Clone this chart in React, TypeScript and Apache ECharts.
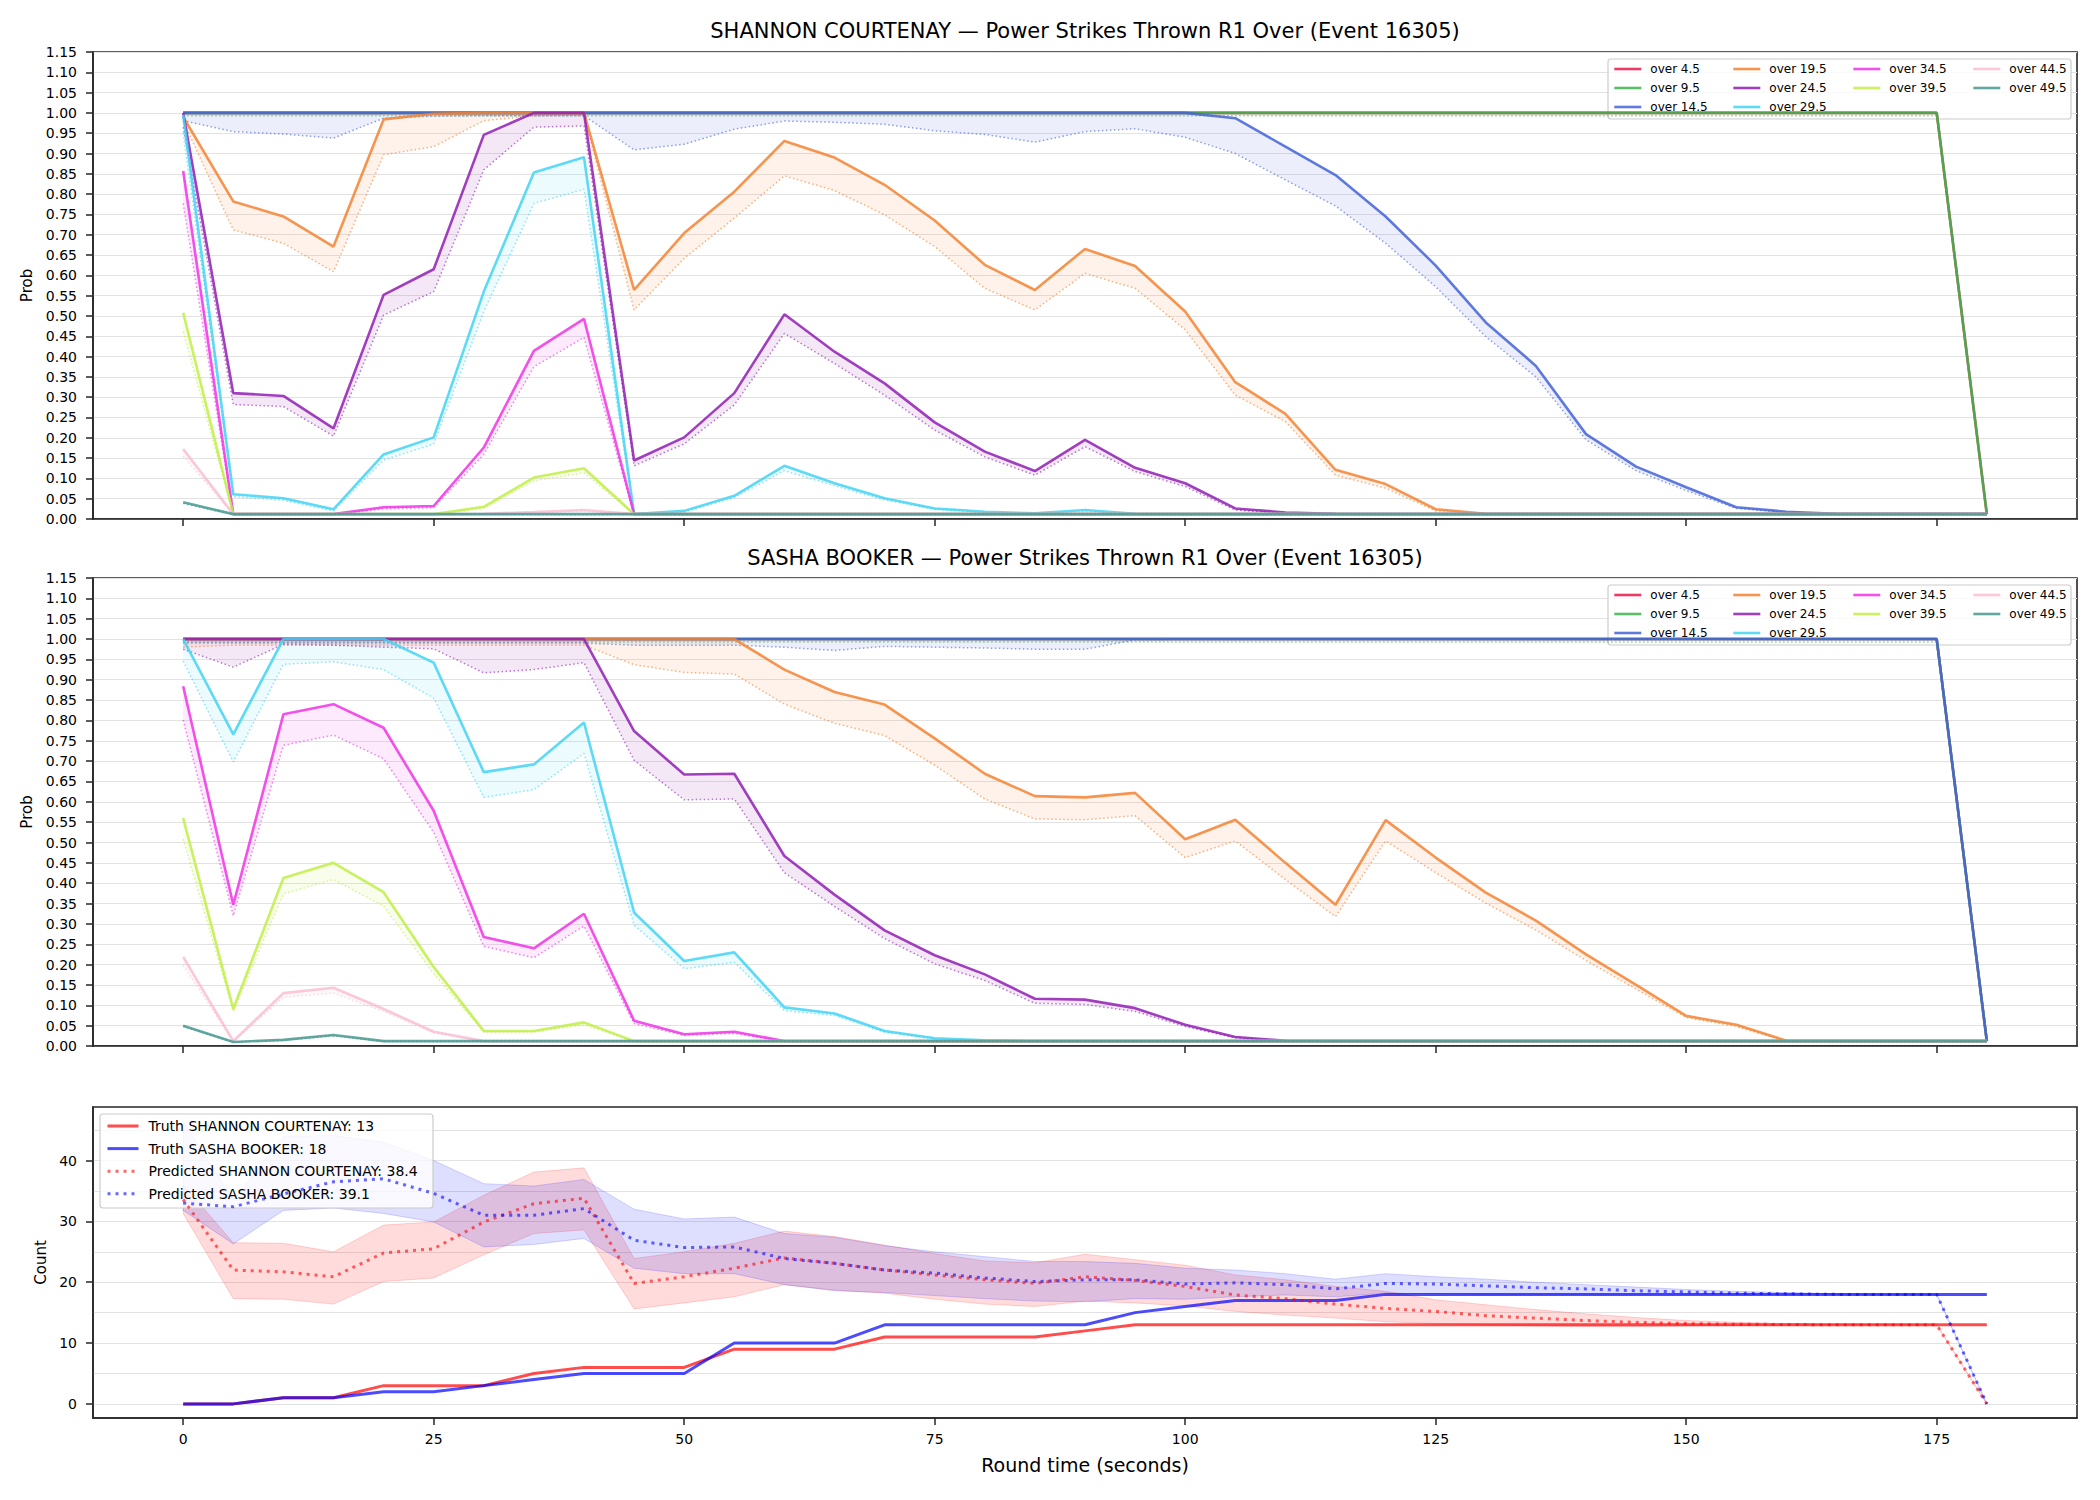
import React, { useEffect, useRef } from "react";
import * as echarts from "echarts";

// Round time in seconds (one sample every 5 s)
const times = [
  0, 5, 10, 15, 20, 25, 30, 35, 40, 45,
  50, 55, 60, 65, 70, 75, 80, 85, 90, 95,
  100, 105, 110, 115, 120, 125, 130, 135, 140, 145,
  150, 155, 160, 165, 170, 175, 180,
];
const xTicks = [0, 25, 50, 75, 100, 125, 150, 175];
const countTicks = [0, 10, 20, 30, 40];
const countGrid = [0, 5, 10, 15, 20, 25, 30, 35, 40, 45];

const thresholds = [
  "over 4.5", "over 9.5", "over 14.5", "over 19.5", "over 24.5",
  "over 29.5", "over 34.5", "over 39.5", "over 44.5", "over 49.5",
];
const palette = [
  "#e6194b", "#3cb44b", "#4363d8", "#f58231", "#911eb4",
  "#42d4f4", "#f032e6", "#bfef45", "#fabed4", "#469990",
];

// ---------- SHANNON COURTENAY: probability (upper) and lower bound ----------
const sc45Hi = [
  1, 1, 1, 1, 1, 1, 1, 1, 1, 1,
  1, 1, 1, 1, 1, 1, 1, 1, 1, 1,
  1, 1, 1, 1, 1, 1, 1, 1, 1, 1,
  1, 1, 1, 1, 1, 1, 0.012,
];
const sc45Lo = [
  0.999, 0.999, 0.999, 0.999, 0.999, 0.999, 0.999, 0.999, 0.999, 0.999,
  0.999, 0.999, 0.999, 0.999, 0.999, 0.999, 0.999, 0.999, 0.999, 0.999,
  0.999, 0.999, 0.999, 0.999, 0.999, 0.999, 0.999, 0.999, 0.999, 0.999,
  0.999, 0.999, 0.999, 0.999, 0.999, 0.999, 0.012,
];
const sc95Hi = [
  1, 1, 1, 1, 1, 1, 1, 1, 1, 1,
  1, 1, 1, 1, 1, 1, 1, 1, 1, 1,
  1, 1, 1, 1, 1, 1, 1, 1, 1, 1,
  1, 1, 1, 1, 1, 1, 0.012,
];
const sc95Lo = [
  0.993, 0.993, 0.993, 0.993, 0.993, 0.993, 0.993, 0.993, 0.993, 0.993,
  0.993, 0.993, 0.993, 0.993, 0.993, 0.993, 0.993, 0.993, 0.993, 0.993,
  0.993, 0.993, 0.993, 0.993, 0.993, 0.993, 0.993, 0.993, 0.993, 0.993,
  0.993, 0.993, 0.993, 0.993, 0.993, 0.993, 0.012,
];
const sc145Hi = [
  1, 1, 1, 1, 1, 1, 1, 1, 1, 1,
  1, 1, 1, 1, 1, 1, 1, 1, 1, 1,
  1, 0.987, 0.917, 0.847, 0.745, 0.624, 0.484, 0.377, 0.209, 0.129,
  0.078, 0.029, 0.018, 0.013, 0.012, 0.012, 0.012,
];
const sc145Lo = [
  0.981, 0.954, 0.948, 0.938, 0.987, 0.992, 0.993, 0.993, 0.993, 0.909,
  0.923, 0.96, 0.98, 0.977, 0.972, 0.956, 0.947, 0.928, 0.954, 0.961,
  0.94, 0.9, 0.835, 0.771, 0.679, 0.572, 0.449, 0.35, 0.195, 0.119,
  0.07, 0.026, 0.016, 0.012, 0.012, 0.012, 0.012,
];
const sc195Hi = [
  0.99, 0.782, 0.745, 0.671, 0.984, 0.998, 1, 1, 1, 0.564,
  0.704, 0.806, 0.931, 0.89, 0.823, 0.735, 0.626, 0.564, 0.665, 0.623,
  0.511, 0.337, 0.259, 0.121, 0.086, 0.024, 0.013, 0.012, 0.012, 0.012,
  0.012, 0.012, 0.012, 0.012, 0.012, 0.012, 0.012,
];
const sc195Lo = [
  0.98, 0.712, 0.679, 0.609, 0.897, 0.917, 0.981, 0.993, 0.995, 0.515,
  0.642, 0.741, 0.845, 0.809, 0.749, 0.671, 0.568, 0.515, 0.605, 0.568,
  0.466, 0.305, 0.24, 0.108, 0.076, 0.02, 0.011, 0.011, 0.011, 0.011,
  0.011, 0.011, 0.011, 0.011, 0.011, 0.011, 0.011,
];
const sc245Hi = [
  1, 0.31, 0.303, 0.223, 0.552, 0.615, 0.946, 1, 1, 0.144,
  0.201, 0.31, 0.504, 0.412, 0.334, 0.238, 0.166, 0.118, 0.195, 0.126,
  0.088, 0.026, 0.016, 0.013, 0.012, 0.012, 0.012, 0.012, 0.012, 0.012,
  0.012, 0.012, 0.012, 0.012, 0.012, 0.012, 0.012,
];
const sc245Lo = [
  0.965, 0.282, 0.277, 0.204, 0.502, 0.56, 0.86, 0.965, 0.968, 0.131,
  0.185, 0.281, 0.457, 0.383, 0.305, 0.219, 0.153, 0.108, 0.178, 0.117,
  0.08, 0.022, 0.014, 0.012, 0.011, 0.011, 0.011, 0.011, 0.011, 0.011,
  0.011, 0.011, 0.011, 0.011, 0.011, 0.011, 0.011,
];
const sc295Hi = [
  0.995, 0.061, 0.051, 0.024, 0.159, 0.201, 0.56, 0.853, 0.891, 0.012,
  0.02, 0.057, 0.131, 0.088, 0.051, 0.026, 0.018, 0.014, 0.022, 0.013,
  0.012, 0.012, 0.012, 0.012, 0.012, 0.012, 0.012, 0.012, 0.012, 0.012,
  0.012, 0.012, 0.012, 0.012, 0.012, 0.012, 0.012,
];
const sc295Lo = [
  0.95, 0.055, 0.046, 0.02, 0.145, 0.185, 0.511, 0.777, 0.812, 0.011,
  0.017, 0.053, 0.119, 0.082, 0.047, 0.024, 0.016, 0.012, 0.019, 0.012,
  0.011, 0.011, 0.011, 0.011, 0.011, 0.011, 0.011, 0.011, 0.011, 0.011,
  0.011, 0.011, 0.011, 0.011, 0.011, 0.011, 0.011,
];
const sc345Hi = [
  0.857, 0.012, 0.012, 0.012, 0.029, 0.032, 0.176, 0.414, 0.493, 0.012,
  0.012, 0.012, 0.012, 0.012, 0.012, 0.012, 0.012, 0.012, 0.012, 0.012,
  0.012, 0.012, 0.012, 0.012, 0.012, 0.012, 0.012, 0.012, 0.012, 0.012,
  0.012, 0.012, 0.012, 0.012, 0.012, 0.012, 0.012,
];
const sc345Lo = [
  0.777, 0.011, 0.011, 0.011, 0.025, 0.028, 0.159, 0.375, 0.447, 0.011,
  0.011, 0.011, 0.011, 0.011, 0.011, 0.011, 0.011, 0.011, 0.011, 0.011,
  0.011, 0.011, 0.011, 0.011, 0.011, 0.011, 0.011, 0.011, 0.011, 0.011,
  0.011, 0.011, 0.011, 0.011, 0.011, 0.011, 0.011,
];
const sc395Hi = [
  0.508, 0.012, 0.012, 0.012, 0.012, 0.012, 0.03, 0.102, 0.125, 0.012,
  0.012, 0.012, 0.012, 0.012, 0.012, 0.012, 0.012, 0.012, 0.012, 0.012,
  0.012, 0.012, 0.012, 0.012, 0.012, 0.012, 0.012, 0.012, 0.012, 0.012,
  0.012, 0.012, 0.012, 0.012, 0.012, 0.012, 0.012,
];
const sc395Lo = [
  0.461, 0.011, 0.011, 0.011, 0.011, 0.011, 0.027, 0.094, 0.114, 0.011,
  0.011, 0.011, 0.011, 0.011, 0.011, 0.011, 0.011, 0.011, 0.011, 0.011,
  0.011, 0.011, 0.011, 0.011, 0.011, 0.011, 0.011, 0.011, 0.011, 0.011,
  0.011, 0.011, 0.011, 0.011, 0.011, 0.011, 0.011,
];
const sc445Hi = [
  0.172, 0.012, 0.012, 0.012, 0.012, 0.012, 0.013, 0.017, 0.022, 0.012,
  0.012, 0.012, 0.012, 0.012, 0.012, 0.012, 0.012, 0.012, 0.012, 0.012,
  0.012, 0.012, 0.012, 0.012, 0.012, 0.012, 0.012, 0.012, 0.012, 0.012,
  0.012, 0.012, 0.012, 0.012, 0.012, 0.012, 0.012,
];
const sc445Lo = [
  0.155, 0.011, 0.011, 0.011, 0.011, 0.011, 0.012, 0.015, 0.019, 0.011,
  0.011, 0.011, 0.011, 0.011, 0.011, 0.011, 0.011, 0.011, 0.011, 0.011,
  0.011, 0.011, 0.011, 0.011, 0.011, 0.011, 0.011, 0.011, 0.011, 0.011,
  0.011, 0.011, 0.011, 0.011, 0.011, 0.011, 0.011,
];
const sc495Hi = [
  0.041, 0.012, 0.012, 0.012, 0.012, 0.012, 0.012, 0.012, 0.012, 0.012,
  0.012, 0.012, 0.012, 0.012, 0.012, 0.012, 0.012, 0.012, 0.012, 0.012,
  0.012, 0.012, 0.012, 0.012, 0.012, 0.012, 0.012, 0.012, 0.012, 0.012,
  0.012, 0.012, 0.012, 0.012, 0.012, 0.012, 0.012,
];
const sc495Lo = [
  0.038, 0.011, 0.011, 0.011, 0.011, 0.011, 0.011, 0.011, 0.011, 0.011,
  0.011, 0.011, 0.011, 0.011, 0.011, 0.011, 0.011, 0.011, 0.011, 0.011,
  0.011, 0.011, 0.011, 0.011, 0.011, 0.011, 0.011, 0.011, 0.011, 0.011,
  0.011, 0.011, 0.011, 0.011, 0.011, 0.011, 0.011,
];

// ---------- SASHA BOOKER: probability (upper) and lower bound ----------
const sb45Hi = [
  1, 1, 1, 1, 1, 1, 1, 1, 1, 1,
  1, 1, 1, 1, 1, 1, 1, 1, 1, 1,
  1, 1, 1, 1, 1, 1, 1, 1, 1, 1,
  1, 1, 1, 1, 1, 1, 0.012,
];
const sb45Lo = [
  0.999, 0.999, 0.999, 0.999, 0.999, 0.999, 0.999, 0.999, 0.999, 0.999,
  0.999, 0.999, 0.999, 0.999, 0.999, 0.999, 0.999, 0.999, 0.999, 0.999,
  0.999, 0.999, 0.999, 0.999, 0.999, 0.999, 0.999, 0.999, 0.999, 0.999,
  0.999, 0.999, 0.999, 0.999, 0.999, 0.999, 0.012,
];
const sb95Hi = [
  1, 1, 1, 1, 1, 1, 1, 1, 1, 1,
  1, 1, 1, 1, 1, 1, 1, 1, 1, 1,
  1, 1, 1, 1, 1, 1, 1, 1, 1, 1,
  1, 1, 1, 1, 1, 1, 0.012,
];
const sb95Lo = [
  0.993, 0.993, 0.993, 0.993, 0.993, 0.993, 0.993, 0.993, 0.993, 0.993,
  0.993, 0.993, 0.993, 0.993, 0.993, 0.993, 0.993, 0.993, 0.993, 0.993,
  0.993, 0.993, 0.993, 0.993, 0.993, 0.993, 0.993, 0.993, 0.993, 0.993,
  0.993, 0.993, 0.993, 0.993, 0.993, 0.993, 0.012,
];
const sb145Hi = [
  1, 1, 1, 1, 1, 1, 1, 1, 1, 1,
  1, 1, 1, 1, 1, 1, 1, 1, 1, 1,
  1, 1, 1, 1, 1, 1, 1, 1, 1, 1,
  1, 1, 1, 1, 1, 1, 0.012,
];
const sb145Lo = [
  0.99, 0.99, 0.99, 0.99, 0.99, 0.99, 0.99, 0.99, 0.99, 0.985,
  0.985, 0.985, 0.98, 0.972, 0.982, 0.98, 0.978, 0.975, 0.975, 0.998,
  0.999, 0.999, 0.999, 0.999, 0.999, 0.999, 0.999, 0.999, 0.999, 0.999,
  0.999, 0.999, 0.999, 0.999, 0.999, 0.999, 0.012,
];
const sb195Hi = [
  1, 1, 1, 1, 1, 1, 1, 1, 1, 1,
  1, 1, 0.925, 0.87, 0.839, 0.756, 0.669, 0.614, 0.611, 0.622,
  0.508, 0.556, 0.45, 0.347, 0.555, 0.463, 0.377, 0.308, 0.225, 0.15,
  0.074, 0.052, 0.013, 0.012, 0.012, 0.012, 0.012,
];
const sb195Lo = [
  0.98, 0.985, 0.985, 0.985, 0.985, 0.985, 0.985, 0.985, 0.985, 0.937,
  0.918, 0.914, 0.84, 0.793, 0.763, 0.69, 0.607, 0.558, 0.556, 0.566,
  0.463, 0.504, 0.409, 0.318, 0.504, 0.426, 0.351, 0.285, 0.21, 0.14,
  0.07, 0.048, 0.011, 0.011, 0.011, 0.011, 0.011,
];
const sb245Hi = [
  1, 1, 1, 1, 1, 1, 1, 1, 1, 0.774,
  0.667, 0.669, 0.467, 0.372, 0.284, 0.223, 0.176, 0.116, 0.114, 0.093,
  0.052, 0.022, 0.013, 0.012, 0.012, 0.012, 0.012, 0.012, 0.012, 0.012,
  0.012, 0.012, 0.012, 0.012, 0.012, 0.012, 0.012,
];
const sb245Lo = [
  0.975, 0.931, 0.987, 0.985, 0.98, 0.976, 0.917, 0.925, 0.942, 0.702,
  0.605, 0.607, 0.426, 0.343, 0.264, 0.202, 0.161, 0.105, 0.102, 0.085,
  0.048, 0.02, 0.012, 0.011, 0.011, 0.011, 0.011, 0.011, 0.011, 0.011,
  0.011, 0.011, 0.011, 0.011, 0.011, 0.011, 0.011,
];
const sb295Hi = [
  1, 0.766, 1, 1, 1, 0.942, 0.673, 0.692, 0.795, 0.328,
  0.209, 0.23, 0.095, 0.08, 0.037, 0.019, 0.014, 0.012, 0.012, 0.012,
  0.012, 0.012, 0.012, 0.012, 0.012, 0.012, 0.012, 0.012, 0.012, 0.012,
  0.012, 0.012, 0.012, 0.012, 0.012, 0.012, 0.012,
];
const sb295Lo = [
  0.946, 0.698, 0.938, 0.944, 0.925, 0.855, 0.611, 0.63, 0.719, 0.297,
  0.19, 0.206, 0.087, 0.075, 0.034, 0.017, 0.012, 0.011, 0.011, 0.011,
  0.011, 0.011, 0.011, 0.011, 0.011, 0.011, 0.011, 0.011, 0.011, 0.011,
  0.011, 0.011, 0.011, 0.011, 0.011, 0.011, 0.011,
];
const sb345Hi = [
  0.884, 0.347, 0.815, 0.84, 0.782, 0.578, 0.268, 0.24, 0.325, 0.062,
  0.029, 0.035, 0.012, 0.012, 0.012, 0.012, 0.012, 0.012, 0.012, 0.012,
  0.012, 0.012, 0.012, 0.012, 0.012, 0.012, 0.012, 0.012, 0.012, 0.012,
  0.012, 0.012, 0.012, 0.012, 0.012, 0.012, 0.012,
];
const sb345Lo = [
  0.801, 0.32, 0.739, 0.764, 0.706, 0.525, 0.245, 0.217, 0.295, 0.055,
  0.026, 0.031, 0.011, 0.011, 0.011, 0.011, 0.011, 0.011, 0.011, 0.011,
  0.011, 0.011, 0.011, 0.011, 0.011, 0.011, 0.011, 0.011, 0.011, 0.011,
  0.011, 0.011, 0.011, 0.011, 0.011, 0.011, 0.011,
];
const sb395Hi = [
  0.56, 0.091, 0.413, 0.45, 0.378, 0.194, 0.037, 0.037, 0.058, 0.012,
  0.012, 0.012, 0.012, 0.012, 0.012, 0.012, 0.012, 0.012, 0.012, 0.012,
  0.012, 0.012, 0.012, 0.012, 0.012, 0.012, 0.012, 0.012, 0.012, 0.012,
  0.012, 0.012, 0.012, 0.012, 0.012, 0.012, 0.012,
];
const sb395Lo = [
  0.508, 0.085, 0.374, 0.409, 0.344, 0.178, 0.034, 0.034, 0.052, 0.011,
  0.011, 0.011, 0.011, 0.011, 0.011, 0.011, 0.011, 0.011, 0.011, 0.011,
  0.011, 0.011, 0.011, 0.011, 0.011, 0.011, 0.011, 0.011, 0.011, 0.011,
  0.011, 0.011, 0.011, 0.011, 0.011, 0.011, 0.011,
];
const sb445Hi = [
  0.219, 0.012, 0.13, 0.143, 0.091, 0.035, 0.012, 0.012, 0.012, 0.012,
  0.012, 0.012, 0.012, 0.012, 0.012, 0.012, 0.012, 0.012, 0.012, 0.012,
  0.012, 0.012, 0.012, 0.012, 0.012, 0.012, 0.012, 0.012, 0.012, 0.012,
  0.012, 0.012, 0.012, 0.012, 0.012, 0.012, 0.012,
];
const sb445Lo = [
  0.198, 0.011, 0.12, 0.13, 0.085, 0.032, 0.011, 0.011, 0.011, 0.011,
  0.011, 0.011, 0.011, 0.011, 0.011, 0.011, 0.011, 0.011, 0.011, 0.011,
  0.011, 0.011, 0.011, 0.011, 0.011, 0.011, 0.011, 0.011, 0.011, 0.011,
  0.011, 0.011, 0.011, 0.011, 0.011, 0.011, 0.011,
];
const sb495Hi = [
  0.05, 0.01, 0.015, 0.027, 0.012, 0.012, 0.012, 0.012, 0.012, 0.012,
  0.012, 0.012, 0.012, 0.012, 0.012, 0.012, 0.012, 0.012, 0.012, 0.012,
  0.012, 0.012, 0.012, 0.012, 0.012, 0.012, 0.012, 0.012, 0.012, 0.012,
  0.012, 0.012, 0.012, 0.012, 0.012, 0.012, 0.012,
];
const sb495Lo = [
  0.048, 0.01, 0.014, 0.025, 0.011, 0.011, 0.011, 0.011, 0.011, 0.011,
  0.011, 0.011, 0.011, 0.011, 0.011, 0.011, 0.011, 0.011, 0.011, 0.011,
  0.011, 0.011, 0.011, 0.011, 0.011, 0.011, 0.011, 0.011, 0.011, 0.011,
  0.011, 0.011, 0.011, 0.011, 0.011, 0.011, 0.011,
];

// ---------- Cumulative counts ----------
const truthShannon = [
  0, 0, 1, 1, 3, 3, 3, 5, 6, 6,
  6, 9, 9, 9, 11, 11, 11, 11, 12, 13,
  13, 13, 13, 13, 13, 13, 13, 13, 13, 13,
  13, 13, 13, 13, 13, 13, 13,
];
const truthSasha = [
  0, 0, 1, 1, 2, 2, 3, 4, 5, 5,
  5, 10, 10, 10, 13, 13, 13, 13, 13, 15,
  16, 17, 17, 17, 18, 18, 18, 18, 18, 18,
  18, 18, 18, 18, 18, 18, 18,
];
const predShannon = [
  33.6, 22.0, 21.7, 20.9, 24.8, 25.5, 29.9, 32.9, 33.8, 19.8,
  20.9, 22.3, 24.0, 23.1, 22.0, 21.2, 20.4, 19.8, 20.9, 20.3,
  19.3, 17.9, 17.3, 16.4, 15.7, 15.2, 14.5, 14.1, 13.7, 13.4,
  13.2, 13.1, 13.05, 13.0, 13.0, 13.0, 0,
];
const predSasha = [
  33.0, 32.4, 34.5, 36.5, 37.0, 34.6, 31.0, 31.0, 32.1, 26.9,
  25.7, 25.8, 23.9, 23.1, 22.0, 21.5, 20.7, 20.1, 20.4, 20.4,
  19.7, 19.9, 19.6, 18.9, 19.8, 19.7, 19.4, 19.1, 18.9, 18.6,
  18.4, 18.2, 18.1, 18.0, 18.0, 18.0, 0,
];
const shannonLow = [
  31.3, 17.3, 17.2, 16.4, 20.1, 20.7, 24.5, 28.0, 28.6, 15.6,
  16.6, 17.6, 19.6, 18.7, 18.2, 17.2, 16.4, 16.0, 16.9, 16.6,
  16.1, 15.2, 14.6, 14.1, 13.5, 13.2, 13.0, 12.8, 12.7, 12.7,
  12.8, 12.9, 12.95, 13.0, 13.0, 13.0, 0,
];
const shannonHigh = [
  36.0, 26.5, 26.4, 25.0, 29.4, 29.9, 34.3, 38.1, 38.8, 23.9,
  25.0, 26.4, 28.4, 27.5, 26.1, 24.7, 23.5, 23.2, 24.6, 23.7,
  22.8, 21.2, 20.4, 19.3, 18.5, 17.1, 16.3, 15.5, 14.8, 14.2,
  13.7, 13.4, 13.2, 13.1, 13.05, 13.0, 0,
];
const sashaLow = [
  31.8, 26.3, 31.8, 32.2, 31.3, 29.9, 25.8, 26.2, 27.2, 22.3,
  21.4, 21.4, 19.6, 18.6, 18.3, 17.8, 17.3, 16.9, 16.8, 17.3,
  17.2, 17.6, 17.9, 17.6, 18.2, 18.1, 18.0, 18.0, 18.0, 18.0,
  18.0, 18.0, 18.0, 18.0, 18.0, 18.0, 0,
];
const sashaHigh = [
  46.4, 33.5, 44.0, 44.1, 43.0, 40.0, 36.2, 35.8, 36.9, 32.0,
  30.4, 30.7, 28.0, 27.4, 26.0, 25.0, 24.2, 23.4, 23.4, 23.1,
  22.3, 22.0, 21.4, 20.5, 21.4, 20.9, 20.5, 20.0, 19.6, 19.2,
  18.8, 18.5, 18.3, 18.1, 18.0, 18.0, 0,
];

const FONT = "DejaVu Sans";
const INK = "#262626";

const shannonHi = [sc45Hi, sc95Hi, sc145Hi, sc195Hi, sc245Hi, sc295Hi, sc345Hi, sc395Hi, sc445Hi, sc495Hi];
const shannonLo = [sc45Lo, sc95Lo, sc145Lo, sc195Lo, sc245Lo, sc295Lo, sc345Lo, sc395Lo, sc445Lo, sc495Lo];
const sashaHi = [sb45Hi, sb95Hi, sb145Hi, sb195Hi, sb245Hi, sb295Hi, sb345Hi, sb395Hi, sb445Hi, sb495Hi];
const sashaLo = [sb45Lo, sb95Lo, sb145Lo, sb195Lo, sb245Lo, sb295Lo, sb345Lo, sb395Lo, sb445Lo, sb495Lo];

function rgba(hex: string, a: number) {
  const n = parseInt(hex.slice(1), 16);
  return `rgba(${(n >> 16) & 255},${(n >> 8) & 255},${n & 255},${a})`;
}

const pairs = (ys: number[]) => times.map((t, i) => [t, ys[i]]);

// Filled region between a lower and an upper curve, drawn as one polygon.
function band(lo: number[], hi: number[], axis: number, fill: string, stroke?: string) {
  return {
    type: "custom",
    name: "band",
    xAxisIndex: axis,
    yAxisIndex: axis,
    silent: true,
    data: times.map((t, i) => [t, lo[i], hi[i]]),
    encode: { x: 0, y: [1, 2] },
    renderItem: (params: any, api: any) => {
      if (params.dataIndex !== 0) return null;
      const upper = times.map((t, i) => api.coord([t, hi[i]]));
      const lower = times.map((t, i) => api.coord([t, lo[i]])).reverse();
      return {
        type: "polygon",
        shape: { points: upper.concat(lower) },
        style: { fill, stroke: stroke || "none", lineWidth: 1 },
      };
    },
  };
}

function probSeries(hiList: number[][], loList: number[][], axis: number) {
  const out: any[] = [];
  thresholds.forEach((name, k) => {
    const c = palette[k];
    out.push(band(loList[k], hiList[k], axis, rgba(c, 0.1)));
    out.push({
      type: "line",
      name,
      xAxisIndex: axis,
      yAxisIndex: axis,
      data: pairs(hiList[k]),
      symbol: "none",
      showSymbol: false,
      silent: true,
      color: c,
      itemStyle: { color: c },
      lineStyle: { color: c, width: 2.6, opacity: 0.85 },
    });
    out.push({
      type: "line",
      name: name + " (low)",
      xAxisIndex: axis,
      yAxisIndex: axis,
      data: pairs(loList[k]),
      symbol: "none",
      showSymbol: false,
      silent: true,
      color: c,
      lineStyle: { color: c, width: 1.5, opacity: 0.6, type: [1.5, 2.5] },
    });
  });
  return out;
}

const legendColumns = [
  ["over 4.5", "over 9.5", "over 14.5"],
  ["over 19.5", "over 24.5", "over 29.5"],
  ["over 34.5", "over 39.5"],
  ["over 44.5", "over 49.5"],
];
const legendColumnX = [1613, 1732, 1852, 1972];

function probLegends(top: number) {
  return legendColumns.map((names, i) => ({
    data: names,
    orient: "vertical",
    left: legendColumnX[i],
    top,
    padding: 0,
    itemWidth: 27,
    itemHeight: 12,
    itemGap: 7,
    selectedMode: false,
    itemStyle: { opacity: 0 },
    lineStyle: { width: 2.6 },
    textStyle: { fontSize: 12, fontFamily: FONT, color: "#000", lineHeight: 12, padding: [0, 0, 0, 4] },
  }));
}

const truthSCName = "Truth SHANNON COURTENAY: 13";
const truthSBName = "Truth SASHA BOOKER: 18";
const predSCName = "Predicted SHANNON COURTENAY: 38.4";
const predSBName = "Predicted SASHA BOOKER: 39.1";

function buildOption() {
  const axisLineStyle = { color: INK, width: 1.6 };
  const gridBase = { left: 93, width: 1984, show: true, borderColor: INK, borderWidth: 1.6, outerBoundsMode: "none" };
  const xAxes = [0, 1, 2].map((i) => ({
    type: "value",
    gridIndex: i,
    min: -9,
    max: 189,
    splitLine: { show: false },
    axisLine: { show: true, onZero: false, lineStyle: axisLineStyle },
    axisTick: { show: true, customValues: xTicks, length: 7, lineStyle: { color: INK, width: 1.5 } },
    axisLabel: { show: i === 2, customValues: xTicks, fontSize: 14, fontFamily: FONT, color: "#000", margin: 14 },
    name: i === 2 ? "Round time (seconds)" : "",
    nameLocation: "middle",
    nameGap: 37,
    nameTextStyle: { fontSize: 19, fontFamily: FONT, color: "#000" },
  }));
  const probAxis = (i: number) => ({
    type: "value",
    gridIndex: i,
    min: 0,
    max: 1.15,
    interval: 0.05,
    axisLine: { show: true, onZero: false, lineStyle: axisLineStyle },
    axisTick: { show: true, length: 7, lineStyle: { color: INK, width: 1.5 } },
    axisLabel: { formatter: (v: number) => v.toFixed(2), fontSize: 14, fontFamily: FONT, color: "#000", margin: 16 },
    splitLine: { show: true, lineStyle: { color: "#e2e2e2", width: 1.2 } },
    name: "Prob",
    nameLocation: "middle",
    nameGap: 57,
    nameTextStyle: { fontSize: 15, fontFamily: FONT, color: "#000" },
  });
  const countAxis = {
    type: "value",
    gridIndex: 2,
    min: -2.32,
    max: 48.8,
    axisLine: { show: true, onZero: false, lineStyle: axisLineStyle },
    axisTick: { show: true, customValues: countTicks, length: 7, lineStyle: { color: INK, width: 1.5 } },
    axisLabel: { customValues: countTicks, fontSize: 14, fontFamily: FONT, color: "#000", margin: 16 },
    splitLine: { show: false },
    name: "Count",
    nameLocation: "middle",
    nameGap: 45,
    nameTextStyle: { fontSize: 15, fontFamily: FONT, color: "#000" },
  };

  const red = "#ff0000";
  const blue = "#0000ff";
  const countSeries: any[] = [
    band(shannonLow, shannonHigh, 2, rgba(red, 0.14), rgba(red, 0.16)),
    band(sashaLow, sashaHigh, 2, rgba(blue, 0.13), rgba(blue, 0.16)),
    {
      type: "line",
      name: truthSCName,
      xAxisIndex: 2,
      yAxisIndex: 2,
      data: pairs(truthShannon),
      symbol: "none",
      silent: true,
      color: red,
      lineStyle: { color: red, width: 3, opacity: 0.7 },
      markLine: {
        silent: true,
        z: 0,
        symbol: ["none", "none"],
        label: { show: false },
        lineStyle: { color: "#e2e2e2", width: 1.2, type: "solid" },
        data: countGrid.map((v) => ({ yAxis: v })),
      },
    },
    {
      type: "line",
      name: truthSBName,
      xAxisIndex: 2,
      yAxisIndex: 2,
      data: pairs(truthSasha),
      symbol: "none",
      silent: true,
      color: blue,
      lineStyle: { color: blue, width: 3, opacity: 0.7 },
    },
    {
      type: "line",
      name: predSCName,
      xAxisIndex: 2,
      yAxisIndex: 2,
      data: pairs(predShannon),
      symbol: "none",
      silent: true,
      color: red,
      lineStyle: { color: red, width: 3, opacity: 0.6, type: [3, 5] },
    },
    {
      type: "line",
      name: predSBName,
      xAxisIndex: 2,
      yAxisIndex: 2,
      data: pairs(predSasha),
      symbol: "none",
      silent: true,
      color: blue,
      lineStyle: { color: blue, width: 3, opacity: 0.6, type: [3, 5] },
    },
  ];

  const frame = (x: number, y: number, w: number, h: number) => ({
    type: "rect",
    z: 3,
    silent: true,
    shape: { x, y, width: w, height: h, r: 3 },
    style: { fill: "rgba(255,255,255,0.8)", stroke: "#cccccc", lineWidth: 1.2 },
  });
  const title = (text: string, y: number) => ({
    type: "text",
    x: 1085,
    y,
    silent: true,
    style: { text, fontSize: 21, fontFamily: FONT, fill: "#000", textAlign: "center", textVerticalAlign: "middle" },
  });

  return {
    animation: false,
    backgroundColor: "#ffffff",
    grid: [
      { ...gridBase, top: 52, height: 467 },
      { ...gridBase, top: 578, height: 468 },
      { ...gridBase, top: 1107, height: 311 },
    ],
    xAxis: xAxes,
    yAxis: [probAxis(0), probAxis(1), countAxis],
    legend: [
      ...probLegends(63),
      ...probLegends(589),
      {
        data: [truthSCName, truthSBName, predSCName, predSBName],
        orient: "vertical",
        left: 106,
        top: 1119,
        padding: 0,
        itemWidth: 31,
        itemHeight: 14,
        itemGap: 8.6,
        selectedMode: false,
        itemStyle: { opacity: 0 },
        lineStyle: { width: 3 },
        textStyle: { fontSize: 14, fontFamily: FONT, color: "#000", lineHeight: 14, padding: [0, 0, 0, 5] },
      },
    ],
    graphic: [
      title("SHANNON COURTENAY \u2014 Power Strikes Thrown R1 Over (Event 16305)", 31),
      title("SASHA BOOKER \u2014 Power Strikes Thrown R1 Over (Event 16305)", 558),
      frame(1608, 59, 463, 60),
      frame(1608, 585, 463, 60),
      frame(100, 1114, 333, 94),
    ],
    series: [...probSeries(shannonHi, shannonLo, 0), ...probSeries(sashaHi, sashaLo, 1), ...countSeries],
  };
}

export default function App() {
  const ref = useRef<HTMLDivElement>(null);
  useEffect(() => {
    if (!ref.current) return;
    const chart = echarts.init(ref.current, undefined, { renderer: "svg" });
    chart.setOption(buildOption() as any);
    return () => chart.dispose();
  }, []);
  return (
    <div
      ref={ref}
      style={{ position: "fixed", left: 0, top: 0, width: "2100px", height: "1500px", background: "#fff" }}
    />
  );
}
